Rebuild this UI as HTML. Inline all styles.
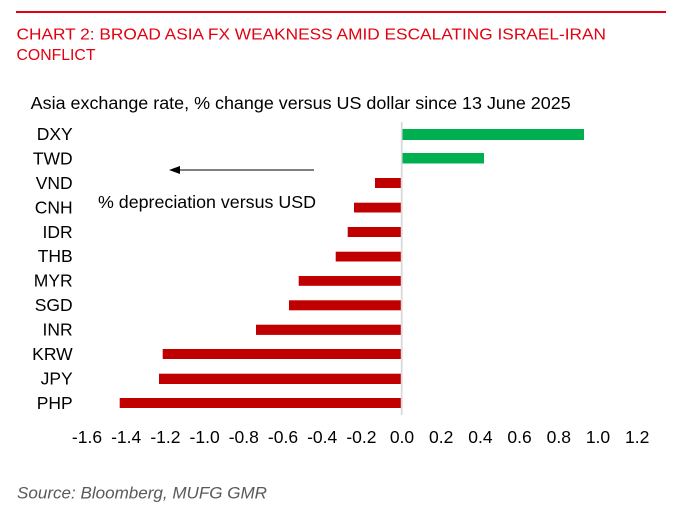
<!DOCTYPE html>
<html>
<head>
<meta charset="utf-8">
<style>
html,body{margin:0;padding:0;background:#fff;}
svg{display:block;}
text{font-family:"Liberation Sans",Arial,sans-serif;}
</style>
</head>
<body>
<svg width="692" height="523" viewBox="0 0 692 523" xmlns="http://www.w3.org/2000/svg">
  <rect x="0" y="0" width="692" height="523" fill="#fff"/>
  <!-- top red rule -->
  <rect x="16" y="11" width="650" height="2" fill="#e3000f"/>
  <!-- title -->
  <text x="16.5" y="39.3" font-size="15.8" fill="#e3000f" textLength="589.5" lengthAdjust="spacingAndGlyphs">CHART 2: BROAD ASIA FX WEAKNESS AMID ESCALATING ISRAEL-IRAN</text>
  <text x="16.5" y="60" font-size="15.8" fill="#e3000f">CONFLICT</text>
  <!-- subtitle -->
  <text x="30.7" y="109" font-size="17.2" fill="#000" textLength="540" lengthAdjust="spacingAndGlyphs">Asia exchange rate, % change versus US dollar since 13 June 2025</text>

  <!-- zero axis line -->
  <rect x="400.8" y="122" width="1.8" height="293" fill="#d9d9d9"/>

  <!-- bars -->
  <rect x="402.5" y="129" width="181.5" height="11" fill="#00b050"/>
  <rect x="402.5" y="153" width="81.5" height="10.5" fill="#00b050"/>
  <rect x="375" y="178" width="25.8" height="10" fill="#c00000"/>
  <rect x="354" y="202.7" width="46.8" height="9.8" fill="#c00000"/>
  <rect x="347.7" y="227" width="53.1" height="10" fill="#c00000"/>
  <rect x="335.7" y="251.7" width="65.1" height="9.8" fill="#c00000"/>
  <rect x="298.7" y="276" width="102.1" height="9.8" fill="#c00000"/>
  <rect x="289" y="300.3" width="111.8" height="10" fill="#c00000"/>
  <rect x="256" y="324.7" width="144.8" height="10.2" fill="#c00000"/>
  <rect x="162.7" y="349" width="238.1" height="10" fill="#c00000"/>
  <rect x="159" y="373.7" width="241.8" height="10.3" fill="#c00000"/>
  <rect x="119.7" y="398" width="281.1" height="10" fill="#c00000"/>

  <!-- category labels -->
  <g font-size="17.5" fill="#000" text-anchor="end">
    <text x="72.7" y="140">DXY</text>
    <text x="72.7" y="164.4">TWD</text>
    <text x="72.7" y="188.9">VND</text>
    <text x="72.7" y="213.3">CNH</text>
    <text x="72.7" y="237.8">IDR</text>
    <text x="72.7" y="262.2">THB</text>
    <text x="72.7" y="286.7">MYR</text>
    <text x="72.7" y="311.1">SGD</text>
    <text x="72.7" y="335.6">INR</text>
    <text x="72.7" y="360">KRW</text>
    <text x="72.7" y="384.5">JPY</text>
    <text x="72.7" y="409">PHP</text>
  </g>

  <!-- arrow -->
  <line x1="179" y1="170" x2="314" y2="170" stroke="#808080" stroke-width="2"/>
  <polygon points="169,170 180,166 180,174" fill="#000"/>
  <text x="98" y="208" font-size="17.3" fill="#000" textLength="218" lengthAdjust="spacingAndGlyphs">% depreciation versus USD</text>

  <!-- x tick labels -->
  <g font-size="17.5" fill="#000" text-anchor="middle">
    <text x="87" y="443">-1.6</text>
    <text x="126.2" y="443">-1.4</text>
    <text x="165.4" y="443">-1.2</text>
    <text x="204.6" y="443">-1.0</text>
    <text x="243.8" y="443">-0.8</text>
    <text x="283" y="443">-0.6</text>
    <text x="322.2" y="443">-0.4</text>
    <text x="361.4" y="443">-0.2</text>
    <text x="402" y="443">0.0</text>
    <text x="441.2" y="443">0.2</text>
    <text x="480.4" y="443">0.4</text>
    <text x="519.6" y="443">0.6</text>
    <text x="558.8" y="443">0.8</text>
    <text x="598" y="443">1.0</text>
    <text x="637.2" y="443">1.2</text>
  </g>

  <!-- source -->
  <text x="17" y="498.3" font-size="17" font-style="italic" fill="#595959" textLength="250" lengthAdjust="spacingAndGlyphs">Source: Bloomberg, MUFG GMR</text>
</svg>
</body>
</html>
